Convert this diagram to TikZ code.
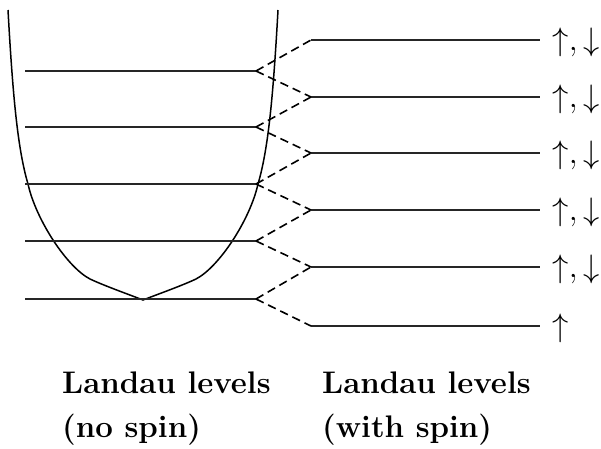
\RequirePackage{fix-cm}
\documentclass[tikz,border=0pt]{standalone}
\usepackage{fontspec}
\begin{document}
\begin{tikzpicture}[x=1pt,y=-1pt,
  level/.style={line width=1.9pt, line cap=butt, draw=black!85},
  well/.style={line width=1.5pt},
  split/.style={line width=1.6pt, dash pattern=on 8.5pt off 5pt},
  caption/.style={inner sep=0pt, anchor=base west, font=\fontsize{31.2}{36}\selectfont\bfseries},
  spinlab/.style={inner sep=0pt, anchor=base west, font=\fontsize{32.5}{38}\selectfont}]
\useasboundingbox (0,0) rectangle (601,448);
% potential well
\draw[well] (8,10) .. controls (13,100) and (18,150) .. (28,184)
  .. controls (36,220) and (67,267) .. (90,279)
  .. controls (105,286) and (125,293) .. (143,300)
  .. controls (161,293) and (181,286) .. (196,279)
  .. controls (219,267) and (250,220) .. (258,184)
  .. controls (268,150) and (273,100) .. (278,10);
% left levels
\foreach \i/\y in {0/71,1/127,2/184,3/241,4/299}{
  \coordinate (La\i) at (25,\y);
  \coordinate (Lb\i) at (256,\y);
  \draw[level] (La\i) -- (Lb\i);
}
% right levels
\foreach \j/\y in {0/40,1/97,2/153,3/210,4/267,5/326}{
  \coordinate (Ra\j) at (311,\y);
  \coordinate (Rb\j) at (540,\y);
  \draw[level] (Ra\j) -- (Rb\j);
}
% splitting
\foreach \i [evaluate=\i as \k using int(\i+1)] in {0,...,4}{
  \draw[split] (Lb\i) -- (Ra\i);
  \draw[split] (Lb\i) -- (Ra\k);
}
% spin labels
\foreach \j/\y in {0/40,1/97,2/153,3/210,4/267}{
  \node[spinlab] (s\j) at (552.5,\y+10.4) {$\uparrow,\downarrow$};
}
\node[spinlab] (s5) at (552.5,336.4) {$\uparrow$};
% captions
\node[caption] (c1) at (62,393) {Landau levels};
\node[caption] (c2) at (62,437) {(no spin)};
\node[caption] (c3) at (322,393) {Landau levels};
\node[caption] (c4) at (322,437) {(with spin)};
\end{tikzpicture}
\end{document}
